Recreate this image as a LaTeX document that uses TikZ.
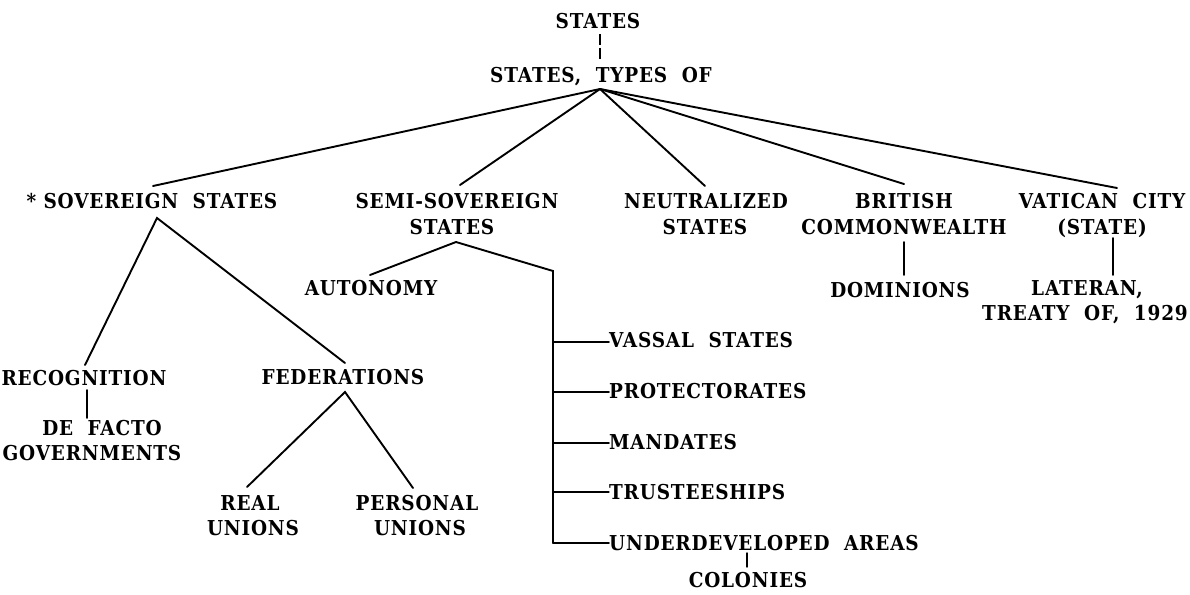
\documentclass[tikz,border=0pt]{standalone}
\usepackage{fontspec}
\setmainfont{DejaVu Serif}[FakeStretch=0.9,LetterSpace=4]
\begin{document}
\begin{tikzpicture}[x=1pt,y=-1pt,
  lbl/.style={inner sep=0pt,anchor=base,font=\fontsize{20.5}{25}\selectfont\bfseries},
  lblw/.style={lbl,anchor=base west},
  conn/.style={line width=1.9pt,line cap=round}]
\useasboundingbox (0,0) rectangle (1190,594);
% top
\node[lbl] (states) at (598,29) {STATES};
\node[lbl] (types) at (601,82) {STATES,\ \ TYPES\ \ OF};
\coordinate (d1) at (600,34);
\coordinate (d2) at (600,60);
\draw[conn,line cap=butt,dash pattern=on 11pt off 3pt] (d1) -- (d2);
\coordinate (hub) at (600,89);
% row 1
\node[lbl] (sov) at (152,208) {*\ SOVEREIGN\ \ STATES};
\node[lbl] (semi1) at (457,208) {SEMI-SOVEREIGN};
\node[lbl] (semi2) at (452,234) {STATES};
\node[lbl] (neu1) at (706,208) {NEUTRALIZED};
\node[lbl] (neu2) at (705,234) {STATES};
\node[lbl] (brit1) at (904,208) {BRITISH};
\node[lbl] (brit2) at (904,234) {COMMONWEALTH};
\node[lbl] (vat1) at (1102,208) {VATICAN\ \ CITY};
\node[lbl] (vat2) at (1102,234) {(STATE)};
\coordinate (sovtop) at (153,186);
\coordinate (semitop) at (460,185);
\coordinate (neutop) at (705,186);
\coordinate (brittop) at (904,184);
\coordinate (vattop) at (1117,188);
\draw[conn] (hub) -- (sovtop);
\draw[conn] (hub) -- (semitop);
\draw[conn] (hub) -- (neutop);
\draw[conn] (hub) -- (brittop);
\draw[conn] (hub) -- (vattop);
% british / vatican children
\node[lbl] (dom) at (900,297) {DOMINIONS};
\node[lbl] (lat1) at (1087,295) {LATERAN,};
\node[lbl] (lat2) at (1085,320) {TREATY\ \ OF,\ \ 1929};
\coordinate (britbot) at (904,242);
\coordinate (domtop) at (904,275);
\coordinate (vatbot) at (1113,238);
\coordinate (lattop) at (1113,275);
\draw[conn] (britbot) -- (domtop);
\draw[conn] (vatbot) -- (lattop);
% sovereign subtree
\coordinate (sovbot) at (157,218);
\node[lbl] (rec) at (84,385) {RECOGNITION};
\node[lbl] (fed) at (343,384) {FEDERATIONS};
\coordinate (rectop) at (85,365);
\coordinate (fedtop) at (345,363);
\draw[conn] (rectop) -- (sovbot) -- (fedtop);
\node[lbl] (df1) at (102,435) {DE\ \ FACTO};
\node[lbl] (df2) at (92,460) {GOVERNMENTS};
\coordinate (recbot) at (87,390);
\coordinate (dftop) at (87,418);
\draw[conn] (recbot) -- (dftop);
\coordinate (fedbot) at (345,392);
\node[lbl] (real1) at (250,510) {REAL};
\node[lbl] (real2) at (253,535) {UNIONS};
\node[lbl] (pers1) at (417,510) {PERSONAL};
\node[lbl] (pers2) at (420,535) {UNIONS};
\coordinate (realtop) at (247,487);
\coordinate (perstop) at (413,488);
\draw[conn] (realtop) -- (fedbot) -- (perstop);
% semi-sovereign subtree
\coordinate (semibot) at (456,242);
\node[lbl] (aut) at (371,295) {AUTONOMY};
\coordinate (auttop) at (370,275);
\coordinate (corner) at (553,271);
\coordinate (brbot) at (553,543);
\draw[conn] (auttop) -- (semibot) -- (corner) -- (brbot);
\node[lblw] (vas) at (609,347) {VASSAL\ \ STATES};
\node[lblw] (pro) at (609,398) {PROTECTORATES};
\node[lblw] (man) at (609,449) {MANDATES};
\node[lblw] (tru) at (609,499) {TRUSTEESHIPS};
\node[lblw] (und) at (609,550) {UNDERDEVELOPED\ \ AREAS};
\coordinate (b1) at (553,342);
\coordinate (b2) at (553,392);
\coordinate (b3) at (553,443);
\coordinate (b4) at (553,492);
\draw[conn] (b1) -- (vas.west |- b1);
\draw[conn] (b2) -- (pro.west |- b2);
\draw[conn] (b3) -- (man.west |- b3);
\draw[conn,line width=1.3pt] (b4) -- (tru.west |- b4);
\draw[conn] (brbot) -- (und.west |- brbot);
\node[lbl] (col) at (748,587) {COLONIES};
\coordinate (undbot) at (747,553);
\coordinate (coltop) at (747,567);
\draw[conn,line width=1.4pt] (undbot) -- (coltop);
\end{tikzpicture}
\end{document}
